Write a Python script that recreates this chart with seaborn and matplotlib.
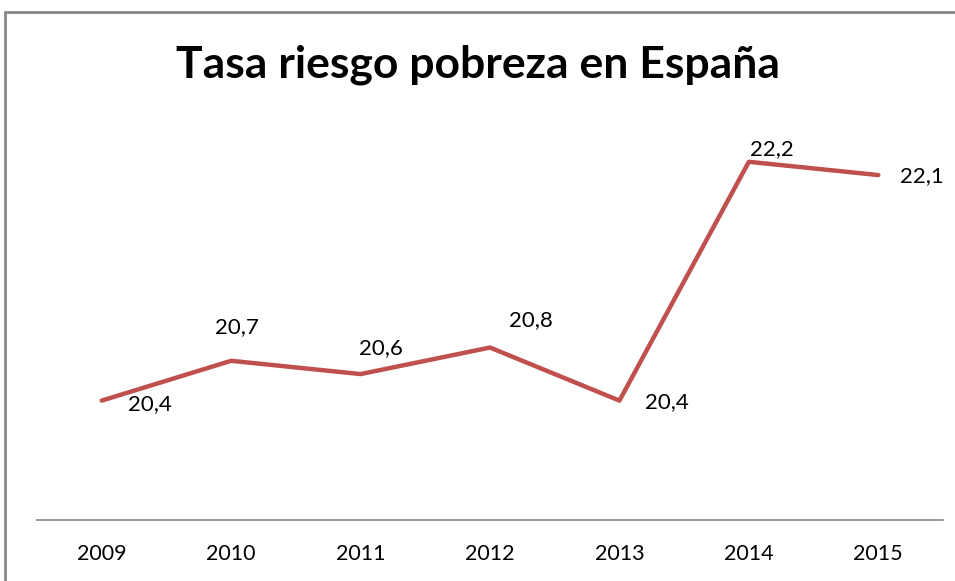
import pandas as pd
import seaborn as sns
import matplotlib.pyplot as plt
from matplotlib.lines import Line2D

# datos
anios = ["2009", "2010", "2011", "2012", "2013", "2014", "2015"]
tasa = [20.4, 20.7, 20.6, 20.8, 20.4, 22.2, 22.1]
etiquetas = ["20,4", "20,7", "20,6", "20,8", "20,4", "22,2", "22,1"]

# desplazamiento de cada etiqueta (pixeles)
desplazamientos = [(48, -3), (6, 34), (20, 26), (41, 27), (47, -1), (23, 13), (44, -1)]

df = pd.DataFrame({"anio": anios, "tasa": tasa})

sns.set_style("white")
plt.rcParams["font.family"] = ["Lato", "DejaVu Sans"]

fig = plt.figure(figsize=(9.55, 5.81), dpi=100)
ax = fig.add_axes([37 / 955, 61 / 581, 906 / 955, 398 / 581])

x = list(range(len(anios)))
sns.lineplot(x=x, y=df["tasa"], color="#C0504D", linewidth=3.2, ax=ax)

for xi, yi, txt, (dx, dy) in zip(x, tasa, etiquetas, desplazamientos):
    ax.annotate(txt, (xi, yi), xytext=(dx, dy), textcoords="offset pixels",
                ha="center", va="center", fontsize=16, color="black")

ax.set_xlim(-0.5, 6.5)
ax.set_ylim(19.5, 22.5)
ax.set_xticks(x)
ax.set_xticklabels(anios, fontsize=15.5, color="black")
ax.set_yticks([])
ax.tick_params(axis="x", length=0, pad=17)
for lado in ["left", "right", "top"]:
    ax.spines[lado].set_visible(False)
ax.spines["bottom"].set_color("#888888")
ax.spines["bottom"].set_linewidth(1.2)
ax.set_xlabel("")
ax.set_ylabel("")

# marco del grafico
fig.add_artist(Line2D([4.5 / 955, 4.5 / 955], [0, 1 - 12 / 581], color="#888888", linewidth=2))
fig.add_artist(Line2D([4.5 / 955, 1], [1 - 12 / 581, 1 - 12 / 581], color="#888888", linewidth=2))

fig.text(0.5, 1 - 65 / 581, "Tasa riesgo pobreza en España", ha="center", va="center",
         fontsize=32, fontweight="bold", color="black")

plt.savefig("out.png", dpi=100)
